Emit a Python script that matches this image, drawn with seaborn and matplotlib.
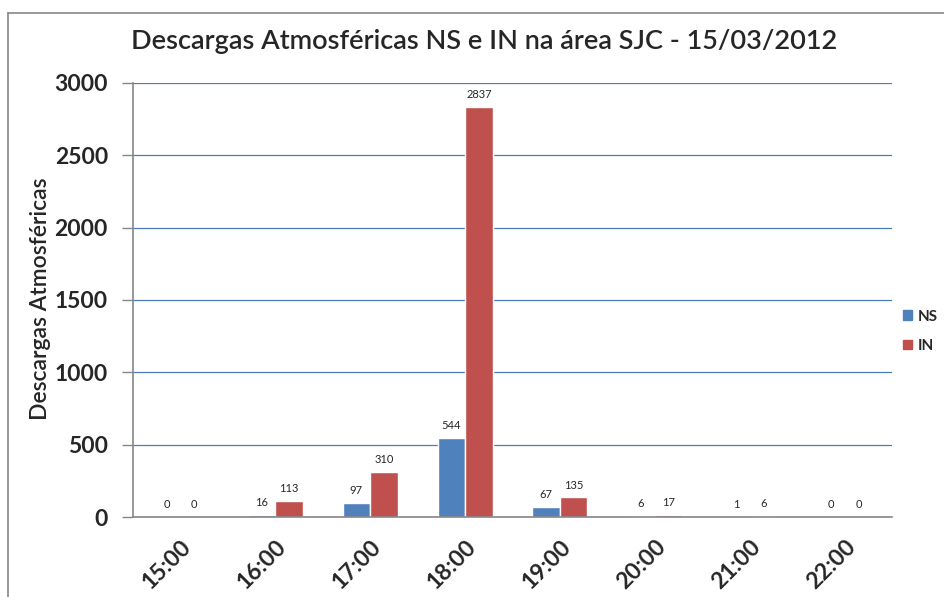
import matplotlib
matplotlib.use("Agg")
import matplotlib.pyplot as plt
import seaborn as sns
import pandas as pd
from matplotlib.patches import Rectangle

hours = ["15:00", "16:00", "17:00", "18:00", "19:00", "20:00", "21:00", "22:00"]
ns_values = [0, 16, 97, 544, 67, 6, 1, 0]
in_values = [0, 113, 310, 2837, 135, 17, 6, 0]
series_names = ["NS", "IN"]
yticks = [0, 500, 1000, 1500, 2000, 2500, 3000]

df = pd.DataFrame({
    "hora": hours * 2,
    "serie": [series_names[0]] * len(hours) + [series_names[1]] * len(hours),
    "valor": ns_values + in_values,
})

sns.set_theme(style="white")
plt.rcParams["font.family"] = ["Lato", "DejaVu Sans"]

fig = plt.figure(figsize=(9.45, 5.97), dpi=100)
ax = fig.add_axes([0.1407, 0.134, 0.8033, 0.727])

palette = {"NS": "#4F81BD", "IN": "#C0504D"}
sns.barplot(data=df, x="hora", y="valor", hue="serie", palette=palette,
            width=0.58, ax=ax, saturation=1, legend=False)

ax.set_ylim(0, 3000)
ax.set_xlim(-0.5, len(hours) - 0.5)
ax.set_yticks(yticks)
ax.set_yticklabels([str(t) for t in yticks], fontsize=16.5, fontweight="bold")
ax.set_xticks(range(len(hours)))
ax.set_xticklabels(hours, fontsize=16.5, fontweight="bold", rotation=45,
                   ha="right", rotation_mode="anchor")
ax.tick_params(axis="x", length=0, pad=14)
ax.tick_params(axis="y", length=8, width=1, color="#868686", pad=10, left=True, direction="out")
ax.yaxis.grid(True, color="#4A7EBB", linewidth=0.9)
ax.set_axisbelow(True)
for s in ["top", "right"]:
    ax.spines[s].set_visible(False)
for s in ["left", "bottom"]:
    ax.spines[s].set_color("#868686")
    ax.spines[s].set_linewidth(1.2)

ax.set_xlabel("")
ax.set_ylabel("")
fig.text(41 / 945, 1 - 299 / 597, "Descargas Atmosféricas", rotation=90,
         fontsize=16.5, fontweight="semibold", ha="center", va="center")

for container in ax.containers:
    ax.bar_label(container, fmt="%d", fontsize=8, padding=5)

fig.text(484 / 945, 1 - 42 / 597, "Descargas Atmosféricas NS e IN na área SJC - 15/03/2012",
         fontsize=19.5, fontweight="semibold", ha="center", va="center")

handles = [Rectangle((0, 0), 1, 1, color=palette[n]) for n in series_names]
fig.legend(handles, series_names, loc="center left", bbox_to_anchor=(0.952, 0.445),
           frameon=False, prop={"weight": "bold", "size": 11},
           handlelength=0.6, handleheight=0.6, handletextpad=0.4, labelspacing=1.0,
           borderpad=0.2, borderaxespad=0.0)

# outer chart border (top and left visible)
fig.add_artist(plt.Line2D([0.0085, 1.0], [1 - 13 / 597, 1 - 13 / 597], color="#868686",
                          linewidth=1.2, transform=fig.transFigure))
fig.add_artist(plt.Line2D([0.0085, 0.0085], [0.0, 1 - 13 / 597], color="#868686",
                          linewidth=1.2, transform=fig.transFigure))

fig.savefig("out.png", dpi=100)
